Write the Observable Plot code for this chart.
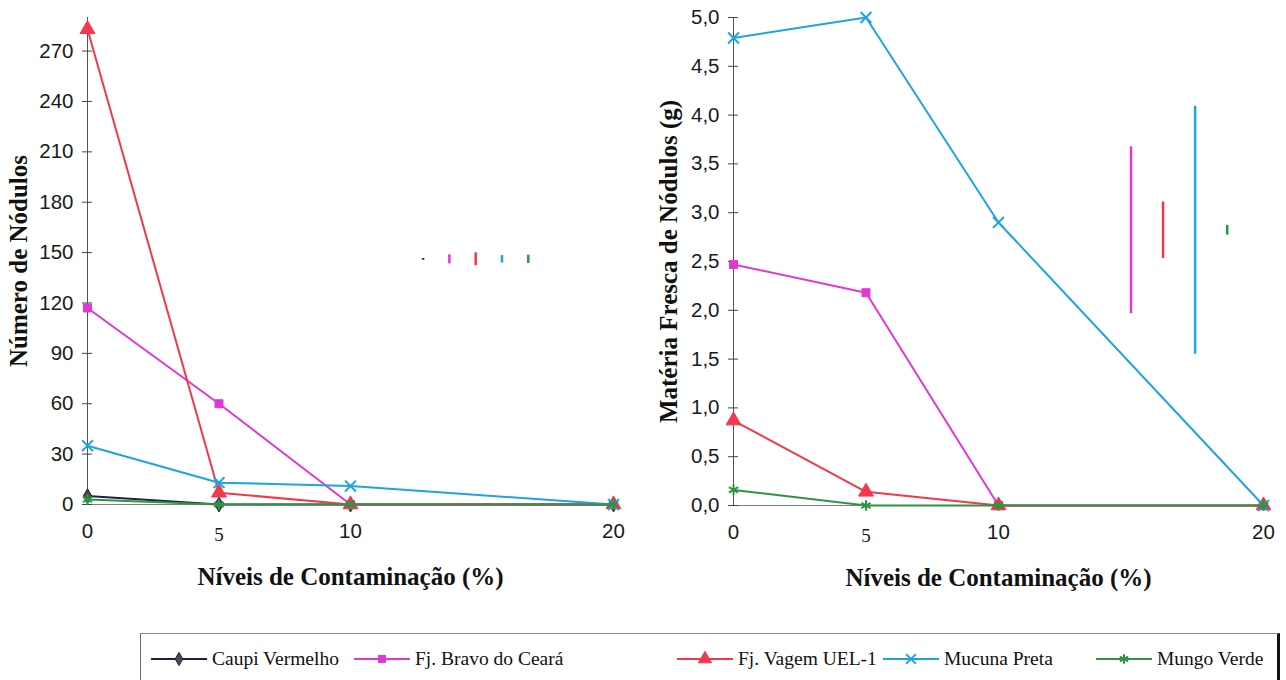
<!DOCTYPE html>
<html>
<head>
<meta charset="utf-8">
<script src="https://cdn.jsdelivr.net/npm/d3@7"></script>
<script src="https://cdn.jsdelivr.net/npm/@observablehq/plot@0.6"></script>
<style>
  body { margin: 0; background: #fff; }
  #fig { position: relative; width: 1286px; height: 680px; overflow: hidden; background: #fff; }
  #esq { position: absolute; left: 0; top: 0; }
  #dir { position: absolute; left: 643px; top: 0; }
  #legenda {
    position: absolute; left: 140px; top: 633px; width: 1136px; height: 60px;
    border-top: 1px solid #8a8a8a; border-left: 1px solid #666; border-right: 3px solid #111;
    font-family: "Liberation Serif", "Times New Roman", serif; font-size: 19.5px; color: #111;
  }
  .item { position: absolute; top: 13px; height: 24px; display: flex; align-items: center; white-space: nowrap; }
  .item svg { margin-right: 5px; }
</style>
</head>
<body>
<div id="fig">
  <div id="esq"></div>
  <div id="dir"></div>
  <div id="legenda"></div>
</div>
<script>
// Contamination levels (%) and species
const niveis = [0, 5, 10, 20];
const especies = ["Caupi Vermelho", "Fj. Bravo do Ceará", "Fj. Vagem UEL-1", "Mucuna Preta", "Mungo Verde"];

// Número de nódulos per species, one value per contamination level
const nodCaupi  = [5, 0, 0, 0];
const nodBravo  = [117, 60, 0, 0];
const nodVagem  = [283, 7, 0, 0];
const nodMucuna = [35, 13, 11, 0];
const nodMungo  = [3, 0, 0, 0];

// Matéria fresca de nódulos (g); no values recorded for Caupi Vermelho
const mfCaupi  = [];
const mfBravo  = [2.47, 2.18, 0, 0];
const mfVagem  = [0.87, 0.14, 0, 0];
const mfMucuna = [4.79, 5.0, 2.9, 0];
const mfMungo  = [0.16, 0, 0, 0];

// DMS (least significant difference) for each species
const dmsNod = [1.0, 5.4, 7.7, 4.4, 4.9];
const dmsMf  = [0, 1.71, 0.58, 2.54, 0.10];

// Axis ticks
const xTicks = [0, 5, 10, 20];
const yTicksNod = [0, 30, 60, 90, 120, 150, 180, 210, 240, 270];
const yTicksMf = [0, 0.5, 1, 1.5, 2, 2.5, 3, 3.5, 4, 4.5, 5];

// Styles
const cores = ["#22223c", "#e038d4", "#f2384a", "#1ea4e4", "#2f9441"];
const preench = ["#4a4a4a", "#e038d4", "#f2384a", "none", "none"];
const simbolos = ["diamond", "square", "triangle", "times", "asterisk"];
const raios = [4.5, 4.5, 5.5, 5, 5];
const sansFont = "'Liberation Sans', Arial, sans-serif";
const serifFont = "'Liberation Serif', 'Times New Roman', serif";

const fmtVirgula = d => d.toFixed(1).replace(".", ",");

function grafico({valores, dms, yDomain, yTicks, yFmt, yLabel, marginLeft, marginRight, marginBottom,
                  barX0, barStep, barY, titleDx}) {
  const marks = [];
  // axis lines
  marks.push(Plot.ruleY([0], {stroke: "#7a7f8a", strokeWidth: 1}));
  marks.push(Plot.ruleX([0], {stroke: "#555", strokeWidth: 1}));
  // y ticks cross the axis line (shifted right by half their length)
  marks.push(Plot.axisY(yTicks, {tickSize: 10, tickPadding: 9, dx: 5, label: null, tickFormat: yFmt,
    fontSize: 20.5, fontFamily: sansFont, color: "#1a1a1a", stroke: "#444"}));
  // x tick labels: the "5" is typeset in a serif face
  marks.push(Plot.axisX(xTicks.filter(d => d !== 5), {tickSize: 0, tickPadding: 19, label: null,
    fontSize: 20.5, fontFamily: sansFont, color: "#1a1a1a"}));
  marks.push(Plot.axisX(xTicks.filter(d => d === 5), {tickSize: 0, tickPadding: 23, label: null,
    fontSize: 19, fontFamily: serifFont, color: "#1a1a1a"}));

  // one line plus markers per species
  valores.forEach((serie, i) => {
    if (!serie.length) return;
    const dados = niveis.map((n, k) => ({nivel: n, valor: serie[k]}));
    marks.push(Plot.line(dados, {x: "nivel", y: "valor", stroke: cores[i], strokeWidth: 2}));
    marks.push(Plot.dot(dados, {x: "nivel", y: "valor", symbol: simbolos[i], r: raios[i],
      fill: preench[i], stroke: cores[i], strokeWidth: preench[i] === "none" ? 2 : 1}));
  });

  // DMS bars, one per species, centred on a common level
  const barras = dms.map((d, i) => ({x: barX0 + i * barStep, lo: barY - d / 2, hi: barY + d / 2, cor: cores[i], d}))
    .filter(b => b.d > 0);
  barras.forEach(b => {
    marks.push(Plot.ruleX([b], {x: "x", y1: "lo", y2: "hi", stroke: b.cor, strokeWidth: 2.5}));
  });

  // axis titles
  marks.push(Plot.text([yLabel], {frameAnchor: "left", rotate: -90, dx: titleDx, text: d => d,
    textAnchor: "middle", lineAnchor: "middle",
    fontSize: 25, fontWeight: "bold", fontFamily: serifFont, fill: "#111"}));
  marks.push(Plot.text(["Níveis de Contaminação (%)"], {frameAnchor: "bottom", dy: 72, text: d => d,
    textAnchor: "middle", lineAnchor: "middle",
    fontSize: 25, fontWeight: "bold", fontFamily: serifFont, fill: "#111"}));

  return Plot.plot({
    width: 643, height: 630,
    marginTop: 17, marginBottom, marginLeft, marginRight,
    x: {domain: [0, 20]},
    y: {domain: yDomain},
    style: {background: "transparent", overflow: "visible"},
    marks
  });
}

document.getElementById("esq").append(grafico({
  valores: [nodCaupi, nodBravo, nodVagem, nodMucuna, nodMungo],
  dms: dmsNod, yDomain: [0, 290], yTicks: yTicksNod, yFmt: d => String(d),
  yLabel: "Número de Nódulos",
  marginLeft: 87, marginRight: 30, marginBottom: 126,
  barX0: 12.76, barStep: 1.0, barY: 146, titleDx: -69
}));

document.getElementById("dir").append(grafico({
  valores: [mfCaupi, mfBravo, mfVagem, mfMucuna, mfMungo],
  dms: dmsMf, yDomain: [0, 5], yTicks: yTicksMf, yFmt: fmtVirgula,
  yLabel: "Matéria Fresca de Nódulos (g)",
  marginLeft: 90, marginRight: 23, marginBottom: 125,
  barX0: 13.79, barStep: 1.21, barY: 2.82, titleDx: -65
}));

// Legend below both charts
const legenda = d3.select("#legenda");
const posLegenda = [10, 213, 536, 742, 955];
especies.forEach((nome, i) => {
  const item = legenda.append("div").attr("class", "item").style("left", posLegenda[i] + "px");
  const svg = item.append("svg").attr("width", 56).attr("height", 20);
  svg.append("line").attr("x1", 0).attr("x2", 56).attr("y1", 10).attr("y2", 10)
    .attr("stroke", cores[i]).attr("stroke-width", 2);
  const tipo = {diamond: d3.symbolDiamond, square: d3.symbolSquare, triangle: d3.symbolTriangle,
                times: d3.symbolTimes, asterisk: d3.symbolAsterisk}[simbolos[i]];
  svg.append("path").attr("transform", "translate(28,10)")
    .attr("d", d3.symbol(tipo, Math.PI * raios[i] * raios[i] * 0.8)())
    .attr("fill", preench[i]).attr("stroke", cores[i])
    .attr("stroke-width", preench[i] === "none" ? 2 : 1);
  item.append("span").text(nome);
});
</script>
</body>
</html>
